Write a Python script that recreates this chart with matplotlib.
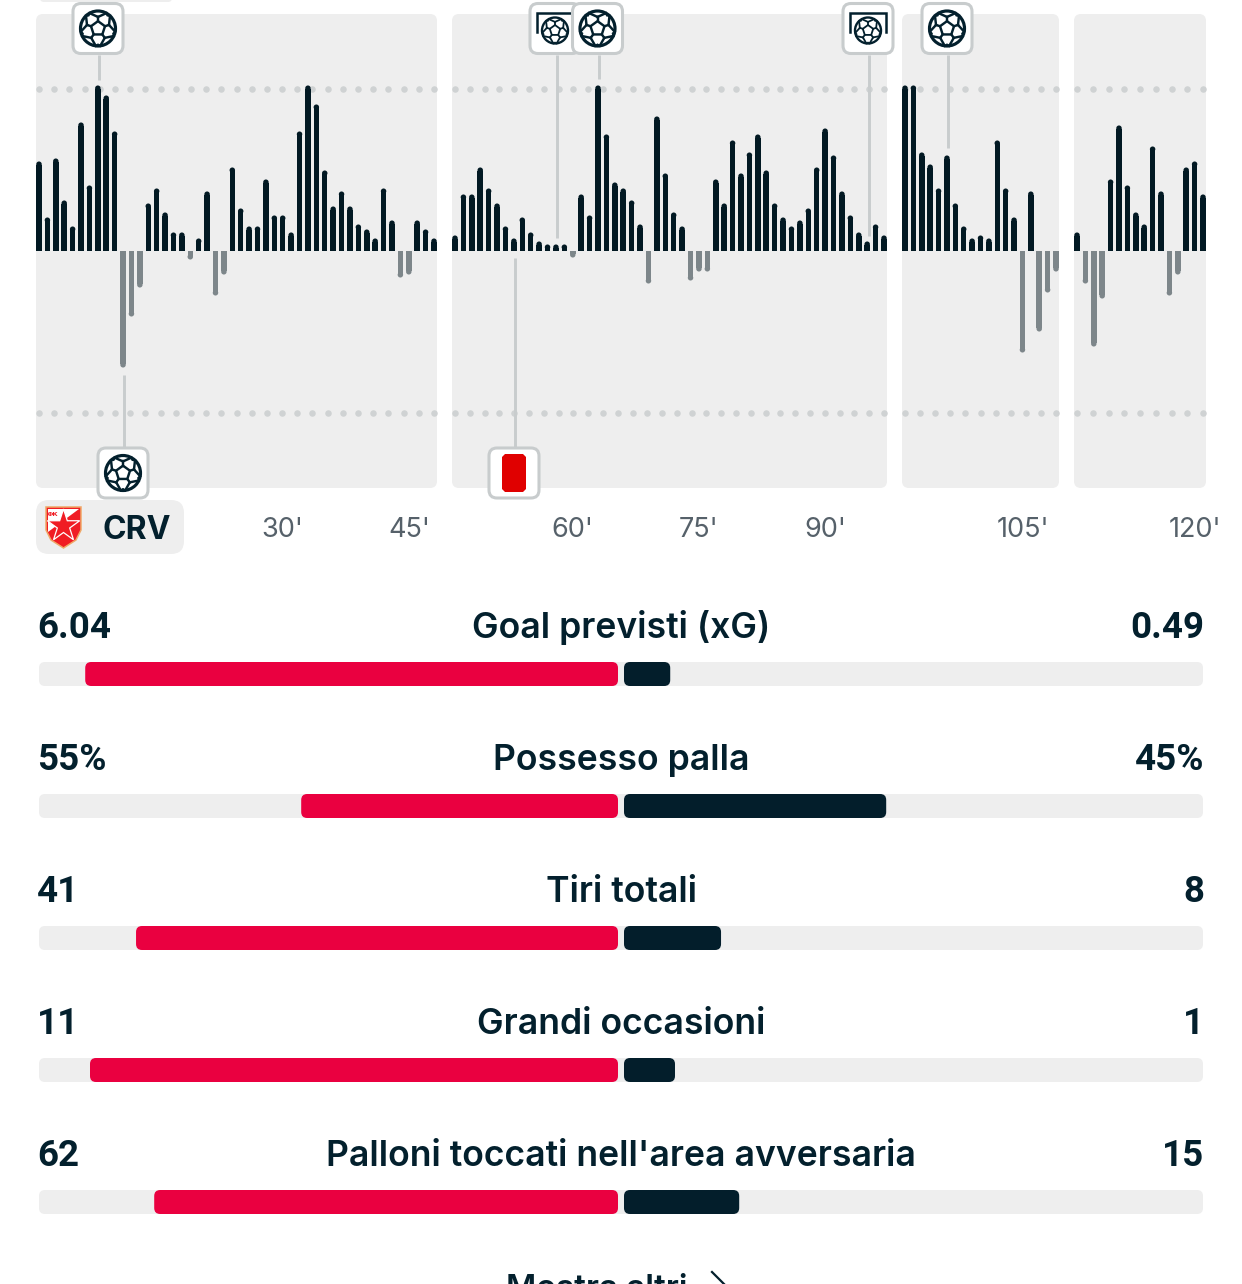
"""
Momentum bars and match stats, laid out on the pixel grid of the screenshot.
"""

import numpy as np
import matplotlib
matplotlib.use("Agg")
import matplotlib.pyplot as plt
from matplotlib.patches import FancyBboxPatch, Circle, Polygon

W, H = 1242, 1284

# momentum per period (bar heights, positive = home side)
period_1 = [89, 33, 92, 50, 24, 128, 65, 165, 155, 119, -116, -65, -36, 47, 62, 38, 18, 18, -8, 12,
            59, -44, -23, 83, 42, 24, 24, 71, 35, 35, 18, 119, 165, 146, 80, 44, 59, 44, 26, 21,
            12, 62, 30, -26, -23, 30, 21, 12]
period_2 = [15, 56, 56, 83, 62, 47, 24, 12, 33, 18, 9, 6, 6, 6, -6, 56, 35, 165, 116, 68,
            62, 50, 26, -32, 134, 77, 38, 24, -29, -20, -20, 71, 47, 110, 77, 98, 116, 80, 47, 33,
            24, 30, 42, 83, 122, 95, 59, 35, 18, 9, 26, 15]
period_3 = [165, 165, 98, 86, 62, 95, 47, 24, 12, 15, 12, 110, 62, 33, -101, 59, -80, -41, -20]
period_4 = [18, -32, -95, -47, 71, 125, 65, 38, 26, 104, 59, -44, -23, 83, 89, 56]

# panel edges and first/last bar centre, in pixels
panels = [
    (period_1, 36, 437, 39, 434, 27),
    (period_2, 452, 887, 455, 884, 30),
    (period_3, 902, 1059, 905, 1056, 11),
    (period_4, 1074, 1206, 1077, 1203, 9),
]

minute_labels = ["30'", "45'", "60'", "75'", "90'", "105'", "120'"]
minute_x = [282, 409, 572, 699, 825, 1023, 1195]

stat_names = ["Goal previsti (xG)", "Possesso palla", "Tiri totali", "Grandi occasioni",
              "Palloni toccati nell'area avversaria"]
home_labels = ["6.04", "55%", "41", "11", "62"]
away_labels = ["0.49", "45%", "8", "1", "15"]
home_values = [6.04, 55, 41, 11, 62]
away_values = [0.49, 45, 8, 1, 15]

INK = "#03202d"
BAR_DARK = "#021923"
BAR_GREY = "#7d868a"
PANEL = "#eeeeee"
DOT = "#cfd2d3"
EDGE = "#c8cccd"
RED = "#ea0040"

plt.rcParams["font.family"] = ["Inter", "DejaVu Sans"]


def rbox(ax, x0, y0, x1, y1, r, fc, ec="none", lw=0, zorder=1):
    p = FancyBboxPatch((x0 + r, y0 + r), x1 - x0 - 2 * r, y1 - y0 - 2 * r,
                       boxstyle=f"round,pad={r},rounding_size={r}",
                       fc=fc, ec=ec, lw=lw, zorder=zorder)
    ax.add_patch(p)
    return p


def draw_ball(ax, cx, cy, r, zorder=5):
    lw = r * 0.1
    ax.add_patch(Circle((cx, cy), r, fc="white", ec=INK, lw=lw * 1.3, zorder=zorder))
    angles = np.deg2rad(-90 + np.arange(5) * 72)
    inner = np.c_[cx + 0.42 * r * np.cos(angles), cy + 0.42 * r * np.sin(angles)]
    ax.add_patch(Polygon(inner, closed=True, fc="white", ec=INK, lw=lw, zorder=zorder + 1))
    for a, pt in zip(angles, inner):
        mid = (cx + 0.66 * r * np.cos(a), cy + 0.66 * r * np.sin(a))
        ax.plot([pt[0], mid[0]], [pt[1], mid[1]], color=INK, lw=lw, zorder=zorder + 1)
        # the two arms that run out to the rim
        for da in (-0.5, 0.5):
            ax.plot([mid[0], cx + r * np.cos(a + da)], [mid[1], cy + r * np.sin(a + da)],
                    color=INK, lw=lw, zorder=zorder + 1)
        # dark wedges on the rim between the panels
        b = a + np.pi / 5
        wedge = [(cx + r * np.cos(b - 0.16), cy + r * np.sin(b - 0.16)),
                 (cx + 0.88 * r * np.cos(b), cy + 0.88 * r * np.sin(b)),
                 (cx + r * np.cos(b + 0.16), cy + r * np.sin(b + 0.16))]
        ax.add_patch(Polygon(wedge, closed=True, fc=INK, ec=INK, lw=lw * 0.4, zorder=zorder + 1))


def event_box(ax, cx, cy, zorder=4):
    rbox(ax, cx - 25, cy - 25, cx + 25, cy + 25, 8, "white", EDGE, 2.2, zorder=zorder)


def ball_event(ax, cx, cy, zorder=4):
    event_box(ax, cx, cy, zorder)
    draw_ball(ax, cx, cy, 17.5, zorder + 1)


def goal_event(ax, cx, cy, zorder=4):
    event_box(ax, cx, cy, zorder)
    ax.plot([cx - 18, cx - 18, cx + 18, cx + 18], [cy + 3, cy - 16, cy - 16, cy + 3],
            color=INK, lw=1.8, solid_joinstyle="miter", zorder=zorder + 1)
    draw_ball(ax, cx, cy + 2, 13, zorder + 1)


def draw_badge(ax):
    shield = [(46, 507), (81, 507), (81, 530), (76, 540), (63.5, 548), (51, 540), (46, 530)]
    ax.add_patch(Polygon(shield, closed=True, fc="#f01c24", ec="#f0a868", lw=1.1, zorder=3))
    ax.add_patch(Polygon([(48, 509), (79, 509), (48, 532)], closed=True, fc="white", zorder=3))
    ang = np.deg2rad(-90 + np.arange(10) * 36)
    rad = np.where(np.arange(10) % 2 == 0, 17, 6.5)
    star = np.c_[63.5 + rad * np.cos(ang), 526 + rad * np.sin(ang)]
    ax.add_patch(Polygon(star, closed=True, fc="#f01c24", ec="white", lw=0.9, zorder=4))
    ax.text(52.5, 514.5, "ФК", fontsize=4.6, color="#f01c24", fontweight="bold",
            family="DejaVu Sans", ha="center", va="center", zorder=5)


fig = plt.figure(figsize=(W / 100, H / 100), dpi=100, facecolor="white")

# background layer in pixel coordinates
bg = fig.add_axes([0, 0, 1, 1], zorder=0)
bg.set_xlim(0, W)
bg.set_ylim(H, 0)
bg.axis("off")

rbox(bg, 40, -12, 172, 2, 4, PANEL)

PANEL_TOP, PANEL_BOTTOM, BASE_Y = 14, 488, 251

for vals, x0, x1, first, last, n_dots in panels:
    rbox(bg, x0, PANEL_TOP, x1, PANEL_BOTTOM, 7, PANEL)
    vals = np.array(vals, dtype=float)
    step = (last - first) / (len(vals) - 1)

    ax = fig.add_axes([x0 / W, 1 - PANEL_BOTTOM / H, (x1 - x0) / W, (PANEL_BOTTOM - PANEL_TOP) / H],
                      zorder=1)
    ax.patch.set_alpha(0)
    ax.axis("off")
    ax.set_xlim((x0 - first) / step, (x1 - first) / step)
    ax.set_ylim(BASE_Y - PANEL_BOTTOM, BASE_Y - PANEL_TOP)

    # dotted reference lines
    dots = np.linspace(0, len(vals) - 1, n_dots)
    for level in (162, -162):
        ax.scatter(dots, np.full(n_dots, level), s=22, color=DOT, linewidths=0, zorder=1)

    # rounded bar ends: a bar up to the cap centre plus a round marker
    xs = np.arange(len(vals))
    cap = 2.7
    colors = np.where(vals > 0, BAR_DARK, BAR_GREY)
    body = vals - np.sign(vals) * np.minimum(cap, np.abs(vals))
    ax.bar(xs, body, width=5.5 / step, color=colors, linewidth=0, zorder=2)
    ax.scatter(xs, body + np.sign(vals) * 0.5, s=15.5, c=colors, linewidths=0, zorder=2)

# overlay layer: event markers, labels, stats
ui = fig.add_axes([0, 0, 1, 1], zorder=2)
ui.patch.set_alpha(0)
ui.set_xlim(0, W)
ui.set_ylim(H, 0)
ui.axis("off")

stems = [(98.8, 55, 80), (123.8, 375, 447), (556.8, 55, 238), (598.8, 55, 79),
         (868.8, 55, 236), (514.8, 258, 447), (947.8, 55, 148)]
for x, y0, y1 in stems:
    ui.plot([x, x], [y0, y1], color=EDGE, lw=2.1, solid_capstyle="butt", zorder=3)

ball_event(ui, 98, 28.5)
ball_event(ui, 123, 473)
goal_event(ui, 555, 28.5, zorder=4)
ball_event(ui, 597.5, 28.5, zorder=8)
goal_event(ui, 868, 28.5)
ball_event(ui, 947, 28.5)

event_box(ui, 514, 473)
card = [(505, 454), (523, 454), (526, 457), (526, 489), (523, 492), (505, 492), (502, 489), (502, 457)]
ui.add_patch(Polygon(card, closed=True, fc="#e00000", ec="none", zorder=6))

# team pill
rbox(bg, 36, 500, 184, 554, 13, PANEL)
draw_badge(ui)
ui.text(103, 539, "CRV", fontsize=23, fontweight="bold", color=INK, ha="left", va="baseline")

for x, lab in zip(minute_x, minute_labels):
    ui.text(x, 537, lab, fontsize=19.5, color="#56616a", ha="center", va="baseline")

# stat rows
ROW_STEP = 132
UNIT = 576
for i, name in enumerate(stat_names):
    base = 638 + i * ROW_STEP
    top = 662 + i * ROW_STEP
    # Roboto digits are all one width, like the screenshot's
    ui.text(37, base, home_labels[i], fontsize=26.5, fontweight="semibold", color=INK,
            family=["Roboto", "DejaVu Sans"], ha="left", va="baseline")
    ui.text(1204, base, away_labels[i], fontsize=26.5, fontweight="semibold", color=INK,
            family=["Roboto", "DejaVu Sans"], ha="right", va="baseline")
    ui.text(621, base, name, fontsize=25.6, fontweight="semibold", color=INK, ha="center", va="baseline")

    total = home_values[i] + away_values[i]
    home_w = home_values[i] / total * UNIT
    away_w = away_values[i] / total * UNIT + 3
    rbox(bg, 39, top, 1203, top + 24, 6, PANEL)
    rbox(ui, 618 - home_w, top, 618, top + 24, 6, RED)
    rbox(ui, 624, top, 624 + away_w, top + 24, 6, "#031e2b")

# cut off by the bottom of the screenshot
ui.text(597, 1298, "Mostra altri", fontsize=23.7, fontweight="semibold", color=INK, ha="center", va="baseline")
ui.plot([712, 725, 716], [1272, 1285, 1294], color=INK, lw=1.6, zorder=3)

fig.savefig("out.png", dpi=100, facecolor="white")
plt.close(fig)
